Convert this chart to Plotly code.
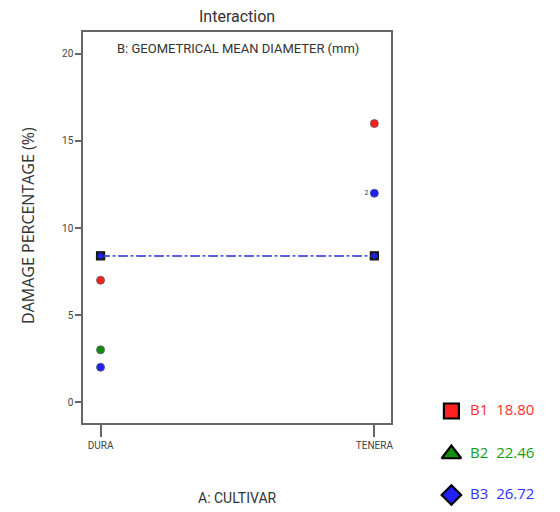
import plotly.graph_objects as go

# ---- data ----
categories = ["DURA", "TENERA"]
cat_pos = [0, 1]
b_levels = ["B1", "B2", "B3"]
b_values = ["18.80", "22.46", "26.72"]
b_colors = ["#ff2020", "#109010", "#2020ff"]
b_symbols = ["square", "triangle-up", "diamond"]

# predicted (interaction) lines for each B level
pred_b1 = [8.4, 8.4]
pred_b2 = [8.4, 8.4]
pred_b3 = [8.4, 8.4]

# observed design points: (category index, value, level index)
obs_cat = [0, 0, 0, 1, 1]
obs_val = [7.0, 3.0, 2.0, 16.0, 12.0]
obs_lvl = [0, 1, 2, 0, 2]
obs_label = ["", "", "", "", "2"]

y_ticks = [0, 5, 10, 15, 20]

FONT = "Liberation Sans Narrow, Roboto, DejaVu Sans Condensed, sans-serif"
TFONT = "Open Sans, Noto Sans, sans-serif"
LEGFONT = "Open Sans, Noto Sans, sans-serif"

fig = go.Figure()

preds = [pred_b1, pred_b2, pred_b3]
dashes = ["dash", "dash", "dashdot"]
sizes = [8, 8, 6]
for i in range(3):
    fig.add_trace(go.Scatter(
        x=cat_pos, y=preds[i], mode="lines+markers",
        line=dict(color=b_colors[i] if i < 2 else "#5a5aff", width=1.8, dash=dashes[i]),
        marker=dict(symbol=b_symbols[i], size=sizes[i], color=b_colors[i] if i else "#222222",
                    opacity=1,
                    line=dict(color="#111111", width=1.2 if i == 0 else 0.6)),
        showlegend=False, hoverinfo="skip"))

fig.add_trace(go.Scatter(
    x=obs_cat, y=obs_val, mode="markers+text",
    text=obs_label, textposition="middle left",
    textfont=dict(size=7, color="#333333", family=FONT),
    marker=dict(size=8, color=[b_colors[l] for l in obs_lvl], opacity=1,
                line=dict(color="#555555", width=0.8)),
    showlegend=False, hoverinfo="skip"))

# legend drawn on its own axes
leg_y = [101, 58, 17]
fig.add_trace(go.Scatter(
    x=[0.236] * 3, y=leg_y, xaxis="x2", yaxis="y2", mode="markers",
    marker=dict(symbol=b_symbols, size=[15, 17, 15], color=b_colors, opacity=1,
                line=dict(color="#000000", width=2.2)),
    showlegend=False, hoverinfo="skip"))
fig.add_trace(go.Scatter(
    x=[0.37] * 3, y=leg_y, xaxis="x2", yaxis="y2", mode="text",
    text=[f"{b}  {v}" for b, v in zip(b_levels, b_values)],
    textposition="middle right",
    textfont=dict(size=15, color=["#ff3030", "#10a010", "#3030ff"], family=LEGFONT),
    showlegend=False, hoverinfo="skip"))

axis_common = dict(showline=True, linecolor="#666666", linewidth=1.5, mirror=True,
                   showgrid=False, zeroline=False, ticks="outside",
                   tickcolor="#666666", tickfont=dict(size=10, color="#444444", family=FONT))


def ann(text, px, py, size, angle=0, family=FONT):
    return dict(text=text, x=px / 560, y=1 - py / 512, xref="paper", yref="paper",
                xanchor="center", yanchor="middle", showarrow=False, textangle=angle,
                font=dict(size=size, color="#333333", family=family))


fig.update_layout(
    width=560, height=512,
    margin=dict(l=0, r=0, t=0, b=0),
    paper_bgcolor="white", plot_bgcolor="white",
    xaxis=dict(domain=[0.1488, 0.7013], range=[-0.064, 1.062],
               tickvals=cat_pos, ticktext=categories, ticklen=12, tickwidth=1.5,
               **axis_common),
    yaxis=dict(domain=[0.1732, 0.9375], range=[-1.22, 21.26],
               tickvals=y_ticks, ticklen=6, tickwidth=1.5, **axis_common),
    xaxis2=dict(domain=[0.75, 1.0], range=[0, 1], visible=False, anchor="y2"),
    yaxis2=dict(domain=[0.0, 0.25], range=[0, 128], visible=False, anchor="x2"),
    annotations=[
        ann("Interaction", 238, 16, 16),
        ann("B: GEOMETRICAL MEAN DIAMETER (mm)", 239, 48, 13),
        ann("A: CULTIVAR", 238, 498, 14),
        ann("DAMAGE PERCENTAGE (%)", 28, 225, 16, angle=-90, family=TFONT),
    ],
)

fig.write_html("out.html", config={"displayModeBar": False},
               post_script="document.body.style.margin='0px';document.body.style.overflow='hidden';")
